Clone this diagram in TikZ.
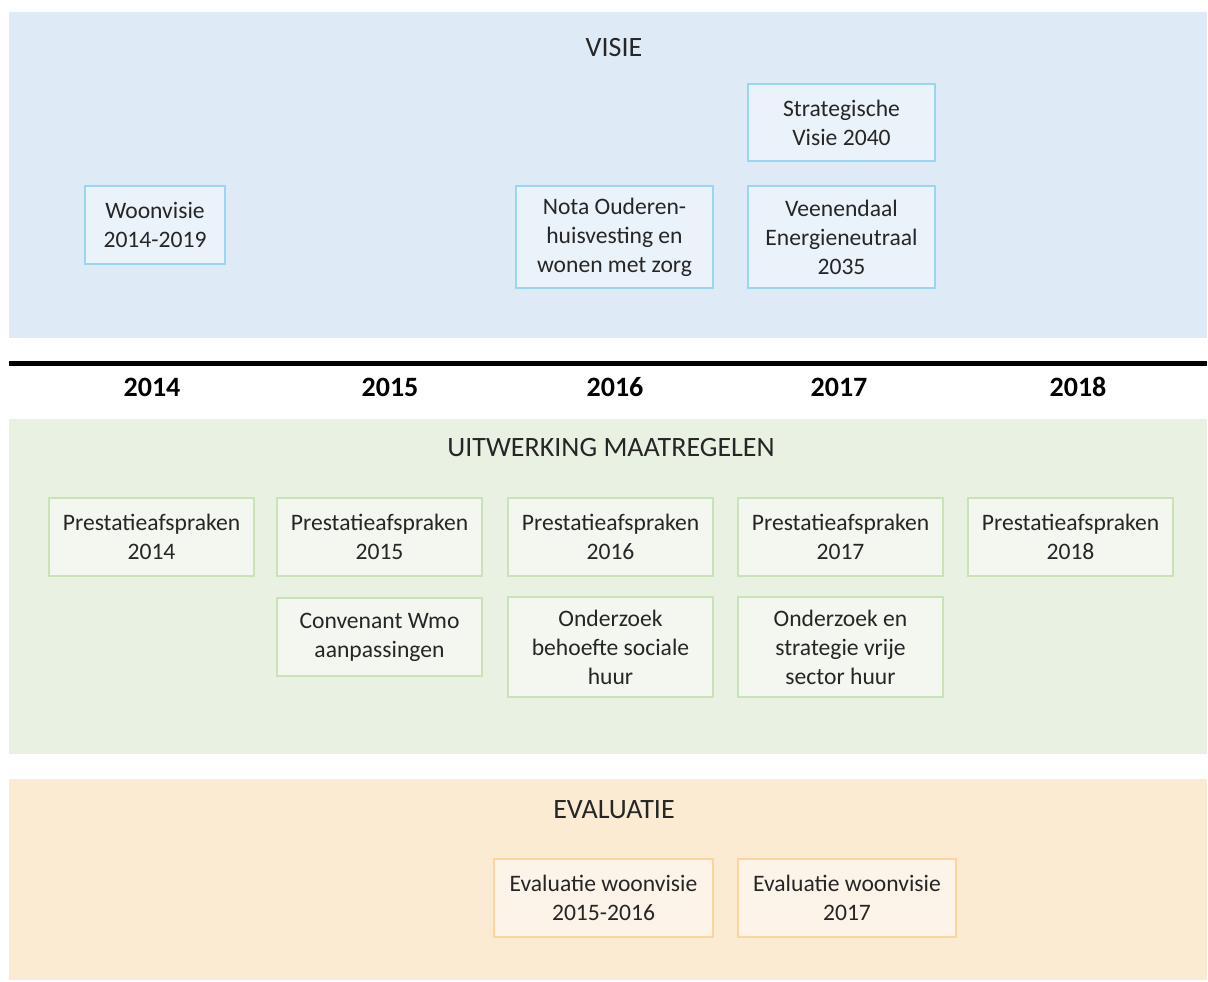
\documentclass[tikz,border=0pt]{standalone}
\usepackage{fontspec}
\setmainfont{Carlito}
\definecolor{visiebg}{HTML}{DEEBF6}
\definecolor{visiefill}{HTML}{EBF3FA}
\definecolor{visieline}{HTML}{9DD5F0}
\definecolor{maatbg}{HTML}{E9F2E2}
\definecolor{maatfill}{HTML}{F3F7EF}
\definecolor{maatline}{HTML}{C9E2B8}
\definecolor{evalbg}{HTML}{FBEBD3}
\definecolor{evalfill}{HTML}{FCF4E8}
\definecolor{evalline}{HTML}{F9D5A0}
\definecolor{tekst}{HTML}{262626}
\tikzset{
    item/.style={rectangle, draw, line width=1.2pt, align=center, text=tekst,
                 inner sep=0pt, font=\fontsize{23.6}{29}\selectfont},
    titel/.style={text=tekst, font=\fontsize{28}{32}\selectfont},
    jaar/.style={font=\fontsize{28}{32}\selectfont\bfseries}
}

\begin{document}
\begin{tikzpicture}[x=1pt, y=-1pt]
        \useasboundingbox (0,0) rectangle (1208,982);
        % panels
        \fill[visiebg] (9,12) rectangle (1207,338);
        \fill[maatbg] (9,419) rectangle (1207,754);
        \fill[evalbg] (9,779) rectangle (1207,980);
        \draw[line width=5pt] (9,363) -- (1207,363);

        \begin{scope}[every node/.style={jaar}]
            \node (J14) at (152, 387) {2014};
            \node (J15) at (390, 387) {2015};
            \node (J16) at (615, 387) {2016};
            \node (J17) at (839, 387) {2017};
            \node (J18) at (1078, 387) {2018};
        \end{scope}

        % visie
        \node[titel] (VT) at (614, 48) {VISIE};
        \begin{scope}[every node/.style={item, draw=visieline, fill=visiefill}]
            \node (V1) [minimum width=140, minimum height=78] at (155, 225) {Woonvisie\\2014-2019};
            \node (V2) [minimum width=197, minimum height=102] at (614.5, 237) {Nota Ouderen-\\huisvesting en\\wonen met zorg};
            \node (V3) [minimum width=187, minimum height=77] at (841.5, 122.5) {Strategische\\Visie 2040};
            \node (V4) [minimum width=187, minimum height=102] at (841.5, 237) {Veenendaal\\Energieneutraal\\2035};
        \end{scope}

        % uitwerking maatregelen
        \node[titel] (MT) at (611, 448) {UITWERKING MAATREGELEN};
        \begin{scope}[every node/.style={item, draw=maatline, fill=maatfill}]
            \node (P14) [minimum width=205, minimum height=78] at (151.5, 537) {Prestatieafspraken\\2014};
            \node (P15) [minimum width=205, minimum height=78] at (379.5, 537) {Prestatieafspraken\\2015};
            \node (P16) [minimum width=205, minimum height=78] at (610.5, 537) {Prestatieafspraken\\2016};
            \node (P17) [minimum width=205, minimum height=78] at (840.5, 537) {Prestatieafspraken\\2017};
            \node (P18) [minimum width=205, minimum height=78] at (1070.5, 537) {Prestatieafspraken\\2018};
            \node (C15) [minimum width=205, minimum height=78] at (379.5, 637) {Convenant Wmo\\aanpassingen};
            \node (O16) [minimum width=205, minimum height=100] at (610.5, 647) {Onderzoek\\behoefte sociale\\huur};
            \node (O17) [minimum width=205, minimum height=100] at (840.5, 647) {Onderzoek en\\strategie vrije\\sector huur};
        \end{scope}

        % evaluatie
        \node[titel] (ET) at (614, 810) {EVALUATIE};
        \begin{scope}[every node/.style={item, draw=evalline, fill=evalfill}]
            \node (E1) [minimum width=219, minimum height=78] at (603.5, 898) {Evaluatie woonvisie\\2015-2016};
            \node (E2) [minimum width=218, minimum height=78] at (847, 898) {Evaluatie woonvisie\\2017};
        \end{scope}
    \end{tikzpicture}
\end{document}
